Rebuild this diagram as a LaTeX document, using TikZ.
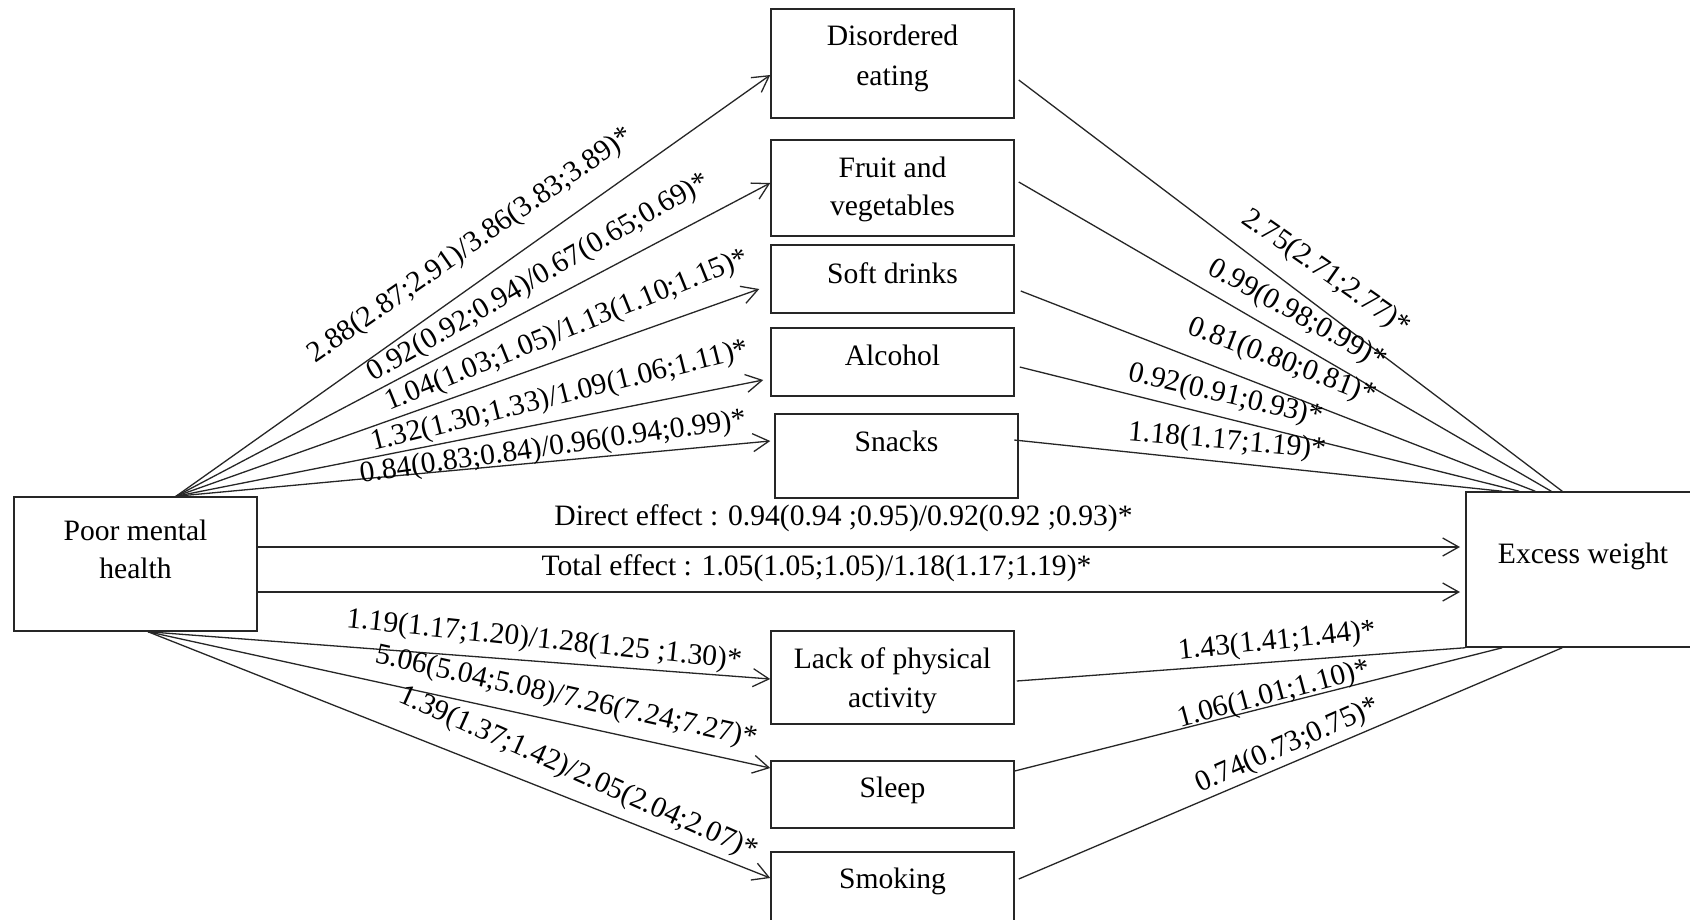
\documentclass[tikz,border=0pt]{standalone}
\usepackage{fontspec}
\setmainfont{Liberation Serif}
\usetikzlibrary{arrows.meta,calc}
\begin{document}
\begin{tikzpicture}[x=1pt,y=-1pt,
  font=\fontsize{29.6}{36}\selectfont,
  box/.style={draw=black!85,line width=1.5pt,inner sep=0pt,minimum width=243pt},
  txt/.style={anchor=base,inner sep=0pt},
  lbl/.style={inner sep=0pt},
  link/.style={draw=black!85,line width=1.3pt},
  arrowlink/.style={link,-{Straight Barb[length=16pt,width=18pt,line width=1.3pt]}}
]
\useasboundingbox (0,0) rectangle (1690,919);
\fill[white] (0,0) rectangle (1690,919);

% boxes
\node[box,minimum height=134pt] (pm) at (135.5,564) {};
\node[box,minimum height=109pt] (de) at (892.5,63.5) {};
\node[box,minimum height=96pt] (fv) at (892.5,188) {};
\node[box,minimum height=68pt] (sd) at (892.5,279) {};
\node[box,minimum height=68pt] (al) at (892.5,362) {};
\node[box,minimum height=84pt] (sn) at (896.5,456) {};
\node[box,minimum height=93pt] (lp) at (892.5,677.5) {};
\node[box,minimum height=67pt] (sl) at (892.5,794.5) {};
\node[box,minimum height=70pt] (sm) at (892.5,887) {};
\node[box,minimum width=236pt,minimum height=155pt] (ew) at (1584,569.5) {};

% box texts
\node[txt] (pm1) at (135.5,540) {Poor mental};
\node[txt] (pm2) at (135.5,578) {health};
\node[txt] (de1) at (892.5,45) {Disordered};
\node[txt] (de2) at (892.5,85) {eating};
\node[txt] (fv1) at (892.5,177) {Fruit and};
\node[txt] (fv2) at (892.5,215) {vegetables};
\node[txt] (sd1) at (892.5,283) {Soft drinks};
\node[txt] (al1) at (892.5,365) {Alcohol};
\node[txt] (sn1) at (896.5,451) {Snacks};
\node[txt] (lp1) at (892.5,668) {Lack of physical};
\node[txt] (lp2) at (892.5,707) {activity};
\node[txt] (sl1) at (892.5,797) {Sleep};
\node[txt] (sm1) at (892.5,888) {Smoking};
\node[txt] (ew1) at (1583,563) {Excess weight};

% start points
\coordinate (s) at ($(pm.north)+(40.5,0)$);
\coordinate (t) at ($(pm.south)+(12.5,0)$);

% left fan (arrows)
\draw[arrowlink] (s) -- ($(de.west)+(0,11.5)$);
\draw[arrowlink] (s) -- ($(fv.west)+(0,-5)$);
\draw[arrowlink] (s) -- ($(sd.west)+(-11,10)$);
\draw[arrowlink] (s) -- ($(al.west)+(-7,18)$);
\draw[arrowlink] (s) -- ($(sn.west)+(-4,-15)$);
\draw[arrowlink] (t) -- ($(lp.west)+(0,1.5)$);
\draw[arrowlink] (t) -- ($(sl.west)+(0,-26.5)$);
\draw[arrowlink] (t) -- ($(sm.west)+(0,-9)$);

% direct and total effects
\draw[arrowlink] (pm.east |- 0,547) -- (1460,547);
\draw[arrowlink] (pm.east |- 0,592) -- (1460,592);

% right fan
\draw[link] ($(de.east)+(4,16.5)$) -- ($(ew.north west)+(97,0)$);
\draw[link] ($(fv.east)+(4,-6)$) -- ($(ew.north west)+(86,0)$);
\draw[link] ($(sd.east)+(6,12)$) -- ($(ew.north west)+(70,0)$);
\draw[link] ($(al.east)+(5,5)$) -- ($(ew.north west)+(54,0)$);
\draw[link] ($(sn.east)+(-4.5,-16)$) -- ($(ew.north west)+(37,0)$);
\draw[link] ($(lp.east)+(2,3.5)$) -- (ew.south west);
\draw[link] ($(sl.east)+(0,-23.5)$) -- ($(ew.south west)+(37,0)$);
\draw[link] ($(sm.east)+(4,-8)$) -- ($(ew.south west)+(97,0)$);

% left labels
\node[lbl,rotate=35] (l1) at (471,246) {2.88(2.87;2.91)/3.86(3.83;3.89)*};
\node[lbl,rotate=30] (l2) at (539,278) {0.92(0.92;0.94)/0.67(0.65;0.69)*};
\node[lbl,rotate=22] (l3) at (567,331) {1.04(1.03;1.05)/1.13(1.10;1.15)*};
\node[lbl,rotate=14] (l4) at (560,397) {1.32(1.30;1.33)/1.09(1.06;1.11)*};
\node[lbl,rotate=8] (l5) at (553,448) {0.84(0.83;0.84)/0.96(0.94;0.99)*};
\node[lbl,rotate=-6] (b1) at (544,641) {1.19(1.17;1.20)/1.28(1.25 ;1.30)*};
\node[lbl,rotate=-12.5] (b2) at (566,698) {5.06(5.04;5.08)/7.26(7.24;7.27)*};
\node[lbl,rotate=-24] (b3) at (578,774) {1.39(1.37;1.42)/2.05(2.04;2.07)*};

% right labels
\node[lbl,rotate=-35] (r1) at (1326,273) {2.75(2.71;2.77)*};
\node[lbl,rotate=-29] (r2) at (1297,315) {0.99(0.98;0.99)*};
\node[lbl,rotate=-21] (r3) at (1282,362) {0.81(0.80;0.81)*};
\node[lbl,rotate=-13] (r4) at (1226,396) {0.92(0.91;0.93)*};
\node[lbl,rotate=-5] (r5) at (1227,442) {1.18(1.17;1.19)*};
\node[lbl,rotate=6] (q1) at (1277,642) {1.43(1.41;1.44)*};
\node[lbl,rotate=15] (q2) at (1274,695) {1.06(1.01;1.10)*};
\node[lbl,rotate=24] (q3) at (1288,746) {0.74(0.73;0.75)*};

% effect labels
\node[lbl] (dir) at (843.5,518) {Direct effect : 0.94(0.94 ;0.95)/0.92(0.92 ;0.93)*};
\node[lbl] (tot) at (816.5,568) {Total effect : 1.05(1.05;1.05)/1.18(1.17;1.19)*};
\end{tikzpicture}
\end{document}
